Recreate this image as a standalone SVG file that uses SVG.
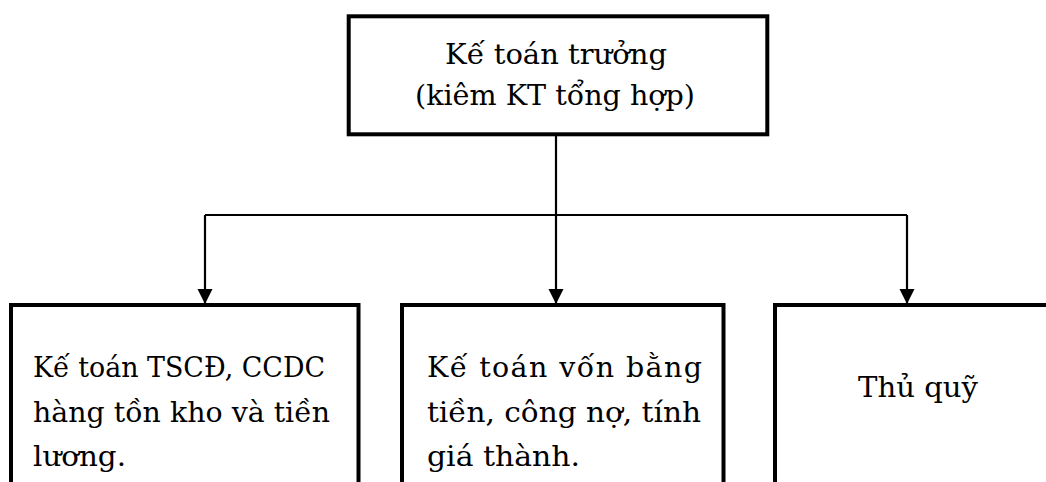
<svg xmlns="http://www.w3.org/2000/svg" width="1046" height="482" viewBox="0 0 1046 482">
<style>
.box{fill:#fff;stroke:#000;stroke-width:4}
.conn{fill:none;stroke:#000;stroke-width:2.2}
.t{font-family:"DejaVu Serif","Liberation Serif",serif;font-size:28.5px;fill:#000}
</style>
<defs>
<marker id="arr" markerUnits="userSpaceOnUse" markerWidth="16" markerHeight="16" refX="15" refY="8" orient="auto">
<path d="M0,0.5 L15,8 L0,15.5 z" fill="#000"/>
</marker>
</defs>
<rect width="1046" height="482" fill="#fff"/>
<g id="connectors">
<path class="conn" d="M556,136 V304" marker-end="url(#arr)"/>
<path class="conn" d="M205,215 H907"/>
<path class="conn" d="M205,215 V304" marker-end="url(#arr)"/>
<path class="conn" d="M907,215 V304" marker-end="url(#arr)"/>
</g>
<g id="node-top">
<rect class="box" x="348.7" y="16.3" width="418.6" height="118"/>
<text class="t" x="445" y="64" textLength="222" lengthAdjust="spacingAndGlyphs">Kế toán trưởng</text>
<text class="t" x="415" y="105" textLength="280" lengthAdjust="spacingAndGlyphs">(kiêm KT tổng hợp)</text>
</g>
<g id="node-1">
<rect class="box" x="11" y="305" width="347.5" height="200"/>
<text class="t" x="33" y="377" textLength="292" lengthAdjust="spacingAndGlyphs">Kế toán TSCĐ, CCDC</text>
<text class="t" x="33" y="422" textLength="297" lengthAdjust="spacingAndGlyphs">hàng tồn kho và tiền</text>
<text class="t" x="33" y="466" textLength="93" lengthAdjust="spacingAndGlyphs">lương.</text>
</g>
<g id="node-2">
<rect class="box" x="402" y="305" width="321.5" height="200"/>
<text class="t" x="427" y="377" textLength="275" lengthAdjust="spacing">Kế toán vốn bằng</text>
<text class="t" x="427" y="422" textLength="274" lengthAdjust="spacingAndGlyphs">tiền, công nợ, tính</text>
<text class="t" x="427" y="466" textLength="153" lengthAdjust="spacingAndGlyphs">giá thành.</text>
</g>
<g id="node-3">
<rect class="box" x="775" y="305" width="300" height="200"/>
<text class="t" x="858" y="397" textLength="120" lengthAdjust="spacingAndGlyphs">Thủ quỹ</text>
</g>
</svg>
